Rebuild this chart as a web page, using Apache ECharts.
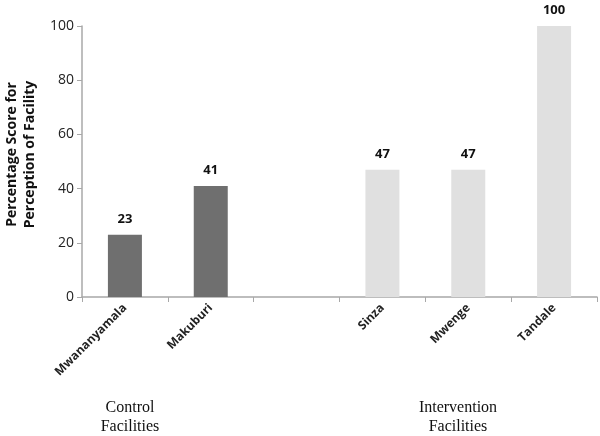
<!DOCTYPE html>
<html><head><meta charset="utf-8">
<script src="https://cdn.jsdelivr.net/npm/echarts@6/dist/echarts.min.js"></script>
<style>html,body{margin:0;padding:0;background:#fff}#c{width:600px;height:436px}</style>
</head><body><div id="c"></div>
<script>
var categories = ['Mwananyamala', 'Makuburi', '', 'Sinza', 'Mwenge', 'Tandale'];
var values = [23, 41, null, 47, 47, 100];
var groups = ['control', 'control', null, 'intervention', 'intervention', 'intervention'];
var yTicks = [0, 20, 40, 60, 80, 100];
var groupColors = { control: '#6f6f6f', intervention: '#e0e0e0' };

var chart = echarts.init(document.getElementById('c'));
var data = values.map(function (v, i) {
  return v == null ? '-' : { value: v, itemStyle: { color: groupColors[groups[i]] } };
});
chart.setOption({
  animation: false,
  grid: { left: 82, right: 3, top: 26, bottom: 139, containLabel: false, outerBoundsMode: 'none' },
  xAxis: {
    type: 'category',
    data: categories,
    axisLine: { lineStyle: { color: '#a8a8a8', width: 1.5 } },
    axisTick: { show: true, length: 5, lineStyle: { color: '#a8a8a8' } },
    axisLabel: { rotate: 45, color: '#222', fontFamily: 'Open Sans', fontWeight: 'bold', fontSize: 12, margin: 9 }
  },
  yAxis: {
    type: 'value', min: 0, max: 100, interval: 20,
    name: 'Percentage Score for\nPerception of Facility',
    nameLocation: 'middle', nameGap: 42, nameRotate: 90,
    nameTextStyle: { fontFamily: 'Open Sans', fontWeight: 'bold', fontSize: 14, color: '#111', lineHeight: 18, padding: [0, 0, 0, 14] },
    axisLine: { show: true, lineStyle: { color: '#a8a8a8', width: 1.5 } },
    axisTick: { show: true, length: 5, lineStyle: { color: '#a8a8a8' } },
    splitLine: { show: false },
    axisLabel: { color: '#222', fontFamily: 'Open Sans', fontSize: 14, margin: 8 }
  },
  series: [{
    type: 'bar',
    data: data,
    barWidth: 34,
    label: { show: true, position: 'top', distance: 9, color: '#111', fontFamily: 'Open Sans', fontWeight: 'bold', fontSize: 13 }
  }],
  graphic: [
    { type: 'text', x: 130, y: 398, style: { text: 'Control\nFacilities', fontFamily: 'Liberation Serif', fontSize: 16, lineHeight: 19, fill: '#111', align: 'center' } },
    { type: 'text', x: 458, y: 398, style: { text: 'Intervention\nFacilities', fontFamily: 'Liberation Serif', fontSize: 16, lineHeight: 19, fill: '#111', align: 'center' } }
  ]
});
</script></body></html>
